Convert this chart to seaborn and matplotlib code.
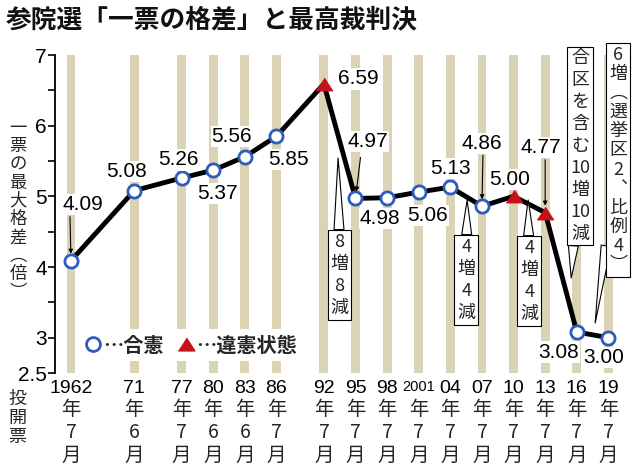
import matplotlib
matplotlib.use("Agg")
import re
import matplotlib.pyplot as plt
import seaborn as sns
import numpy as np
import pandas as pd
from matplotlib import font_manager
from matplotlib.lines import Line2D

_fonts = font_manager.fontManager.ttflist
_names = {f.name for f in _fonts}
SANS = "Liberation Sans" if "Liberation Sans" in _names else "DejaVu Sans"
CJK = "Noto Sans CJK JP"

# ---------------- data ----------------
title = "参院選「一票の格差」と最高裁判決"
years = ["1962", "71", "77", "80", "83", "86", "92", "95", "98", "2001",
         "04", "07", "10", "13", "16", "19"]
months = ["7", "6", "7", "6", "6", "7", "7", "7", "7", "7",
          "7", "7", "7", "7", "7", "7"]
values = [4.09, 5.08, 5.26, 5.37, 5.56, 5.85, 6.59, 4.97, 4.98, 5.06,
          5.13, 4.86, 5.00, 4.77, 3.08, 3.00]
status = ["合憲", "合憲", "合憲", "合憲", "合憲", "合憲", "違憲状態",
          "合憲", "合憲", "合憲", "合憲", "合憲", "違憲状態", "違憲状態",
          "合憲", "合憲"]
legend_labels = ["⋯合憲", "⋯違憲状態"]
ylabel_text = "一票の最大格差︵倍︶"
xlabel_text = "投開票"
notes = ["8増8減", "4増4減", "4増4減", "合区を含む10増10減", "6増︵選挙区2︑比例4︶"]

# ---------------- layout ----------------
slot_gaps = [0, 2, 1.5, 1, 1, 1, 1.5, 1, 1, 1, 1, 1, 1, 1, 1, 1]
x_pos = np.cumsum(slot_gaps)

BLUE = "#2d5cbf"
RED = "#c4121a"
TAN = "#dad3b5"

df = pd.DataFrame({"x": x_pos, "value": values, "status": status})

sns.set_theme(style="white")
plt.rcParams["font.family"] = [CJK, "DejaVu Sans"]

fig = plt.figure(figsize=(6.4, 4.73), dpi=100)
W, H = 640, 473
ax = fig.add_axes([55 / W, 1 - 373 / H, 585 / W, 318 / H])
ax.set_xlim(-0.506, 18.0)
ax.set_ylim(2.5, 7.0)

# background stripes
ax.bar(x_pos, 4.5, bottom=2.5, width=0.28, color=TAN, zorder=1, linewidth=0)

sns.lineplot(data=df, x="x", y="value", color="black", lw=3.5, ax=ax,
             zorder=3, sort=False)
tri = [(-1, -0.77), (1, -0.77), (0, 0.77)]
sns.scatterplot(data=df[df.status == "合憲"], x="x", y="value", marker="o",
                s=90, color="white", edgecolor=BLUE, linewidth=2.0, ax=ax, zorder=4)
sns.scatterplot(data=df[df.status == "違憲状態"], x="x", y="value", marker=tri,
                s=150, color=RED, edgecolor=RED, linewidth=0.5, ax=ax, zorder=4)

ax.set_xlabel("")
ax.set_ylabel("")

# axes styling
sns.despine(ax=ax, bottom=True)
ax.spines["left"].set_color("black")
ax.spines["left"].set_linewidth(1.3)
yt = np.arange(2.5, 7.01, 0.5)
ax.set_yticks(yt)
ax.set_yticklabels(["2.5" if abs(t - 2.5) < 1e-9 else (f"{t:.0f}" if abs(t - round(t)) < 1e-9 else "") for t in yt],
                   fontfamily=SANS, fontsize=15)
ax.tick_params(axis="y", direction="out", length=5, width=1.2, pad=1, colors="black", left=True)

# x tick labels: year digits, with 年/月 lines stacked below
ax.set_xticks(x_pos)
ax.set_xticklabels(years, fontfamily=SANS, fontsize=14, va="top")
ax.tick_params(axis="x", length=0, pad=5, colors="black")
for lab in ax.get_xticklabels():
    if len(lab.get_text()) > 2:
        lab.set_fontsize(14 if lab.get_text() == "1962" else 10.5)
for xi, m in zip(x_pos, months):
    ax.annotate(f"年\n{m}\n月", xy=(xi, 0), xycoords=ax.get_xaxis_transform(),
                xytext=(0, -26), textcoords="offset pixels", ha="center", va="top",
                fontsize=14, linespacing=1.12, fontfamily=[CJK], annotation_clip=False)
ax.grid(False)

# value labels
label_off = [(12, 56), (-8, 19), (-3, 18), (4, -23), (-13, 20), (12, -23), (34, 5),
             (12, 57), (-7, -21), (9, -23), (0, 19), (0, 63), (-4, 17), (-4, 65),
             (-18, -20), (-5, -20)]
for xi, v, (dx, dy) in zip(x_pos, values, label_off):
    ax.annotate(f"{v:.2f}", xy=(xi, v), xytext=(dx, dy), textcoords="offset pixels",
                ha="center", va="center", fontsize=15, fontfamily=SANS, color="black",
                bbox=dict(boxstyle="square,pad=0.05", fc="white", ec="none"), zorder=5)

# small arrows
arrow_tails = {0: (-1, 44), 7: (5, 41), 11: (1, 51), 13: (0, 53)}
for i, (dx, dy) in arrow_tails.items():
    ax.annotate("", xy=(x_pos[i], values[i]), xytext=(dx, dy), textcoords="offset pixels",
                arrowprops=dict(arrowstyle="-|>", lw=0.8, color="black", shrinkA=0,
                                shrinkB=5, mutation_scale=6), zorder=5)

# callout boxes
def to_data(px, py):
    return (px - 71) / 31.6, 7 - (py - 55) / 70.67

callouts = [
    (notes[0], (338, 158), (1.5, -117), 1.30, 13),
    (notes[1], (467, 200), (-1, -80), 1.30, 13),
    (notes[2], (528, 200), (1, -81), 1.30, 13),
    (notes[3], (571, 278), (9, 132), 1.28, 13),
    (notes[4], (595, 323), (23, 163), 1.08, 13),
]
for txt, tip, off, ls, fs in callouts:
    parts = re.findall(r"\d+|.", txt)
    ax.annotate("\n".join(parts), xy=to_data(*tip), xytext=off, textcoords="offset pixels",
                ha="center", va="center", fontsize=fs, linespacing=ls, fontfamily=[CJK],
                multialignment="center",
                bbox=dict(boxstyle="square,pad=0.15", fc="white", ec="black", lw=0.8),
                arrowprops=dict(arrowstyle="wedge,tail_width=0.55,shrink_factor=0.5",
                                fc="white", ec="black", lw=0.8, shrinkA=0, shrinkB=0),
                annotation_clip=False, zorder=6)

# legend
handles = [Line2D([0], [0], marker="o", ls="none", mfc="white", mec=BLUE, mew=2, ms=10),
           Line2D([0], [0], marker=tri, ls="none", mfc=RED, mec=RED, ms=12)]
ax.legend(handles, legend_labels, ncol=2, loc="center left",
          bbox_to_anchor=(80 / W, 1 - 345 / H), bbox_transform=fig.transFigure,
          frameon=True, facecolor="white", edgecolor="none", framealpha=1, fancybox=False,
          borderpad=0.25, handlelength=0.8, handletextpad=0.1, columnspacing=0.7,
          borderaxespad=0, prop=dict(family=CJK, weight="bold", size=14.5))

# texts
fig.text(6 / W, 1 - 20 / H, title, ha="left", va="center", fontsize=18.5,
         fontweight="bold", color="#111111")
fig.text(18 / W, 1 - 210 / H, "\n".join(ylabel_text), ha="center", va="center",
         fontsize=12.5, linespacing=1.02)
fig.text(17 / W, 1 - 418 / H, "\n".join(xlabel_text), ha="center", va="center",
         fontsize=13, linespacing=1.05)

fig.savefig("out.png", dpi=100)
